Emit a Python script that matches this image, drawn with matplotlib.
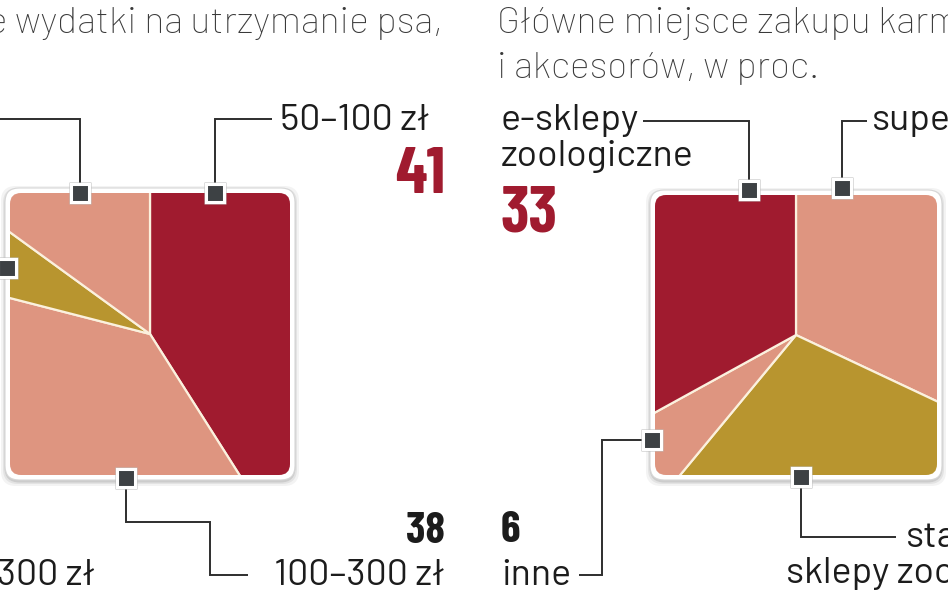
import matplotlib.pyplot as plt
from matplotlib.patches import Wedge, FancyBboxPatch

W, H = 948, 593

# lewy wykres - miesieczne wydatki na psa, w proc.
spend_labels = ["50–100 zł", "100–300 zł", "powyżej 300 zł", "do 50 zł"]
spend_values = [41, 38, 6, 15]
spend_colors = ["#A01B2F", "#DE9580", "#B8952F", "#DE9580"]

# prawy wykres - miejsce zakupu karmy, w proc.
shop_labels = ["supermarkety", "stacjonarne", "inne", "e-sklepy"]
shop_values = [32, 29, 6, 33]
shop_colors = ["#DE9580", "#B8952F", "#DE9580", "#A01B2F"]

plt.rcParams["font.family"] = ["Barlow", "DejaVu Sans"]

fig = plt.figure(figsize=(W / 100, H / 100), dpi=100)
ax = fig.add_axes([0, 0, 1, 1])
ax.set_xlim(0, W)
ax.set_ylim(H, 0)
ax.axis("off")


def square_pie(box, values, colors):
    x0, y0, x1, y1 = box
    cx, cy = (x0 + x1) / 2, (y0 + y1) / 2
    # cien i biala ramka
    for grow, a in [(9, 0.10), (7, 0.15), (5.5, 0.25)]:
        ax.add_patch(FancyBboxPatch((x0 - grow, y0 - grow + 2), x1 - x0 + 2 * grow,
                                    y1 - y0 + 2 * grow,
                                    boxstyle="round,pad=0,rounding_size=15",
                                    fc="#8a8a8a", ec="none", alpha=a, zorder=1))
    ax.add_patch(FancyBboxPatch((x0 - 5, y0 - 5), x1 - x0 + 10, y1 - y0 + 10,
                                boxstyle="round,pad=0,rounding_size=14",
                                fc="white", ec="#d6d6d6", lw=0.8, zorder=2))
    clip = FancyBboxPatch((x0, y0), x1 - x0, y1 - y0,
                          boxstyle="round,pad=0,rounding_size=11",
                          fc="none", ec="none", transform=ax.transData)
    ax.add_patch(clip)
    start = 0.0
    for v, c in zip(values, colors):
        span = v / sum(values) * 360
        w = Wedge((cx, cy), 500, start - 90, start + span - 90,
                  fc=c, ec="#FBF1DE", lw=1.6, zorder=3)
        ax.add_patch(w)
        w.set_clip_path(clip)
        start += span


square_pie((10, 193, 290, 475), spend_values, spend_colors)
square_pie((655, 195, 937, 475), shop_values, shop_colors)

line_kw = dict(color="#2e2e2e", lw=1.4, zorder=4, solid_joinstyle="miter",
               solid_capstyle="butt")


def marker(x, y):
    ax.plot([x], [y], marker="s", ms=16.5, mfc="#bdbdbd", mec="none", zorder=5)
    ax.plot([x], [y], marker="s", ms=13, mfc="#3D4144", mec="white",
            mew=2.2, zorder=6)


# lewy wykres - odnosniki
ax.plot([215, 215, 272], [193, 119, 119], **line_kw)
marker(215, 193)
ax.plot([80, 80, -5], [193, 119, 119], **line_kw)
marker(80, 193)
ax.plot([8, -5], [268, 268], **line_kw)
marker(7, 268)
ax.plot([126, 126, 210, 210, 248], [478, 522, 522, 575, 575], **line_kw)
marker(126, 478)

# prawy wykres - odnosniki
ax.plot([749, 749, 643], [190, 121, 121], **line_kw)
marker(749, 190)
ax.plot([842, 842, 867], [188, 121, 121], **line_kw)
marker(842, 188)
ax.plot([652, 602, 602, 579], [440, 440, 575, 575], **line_kw)
marker(652, 440)
ax.plot([801, 801, 896], [477, 537, 537], **line_kw)
marker(801, 477)

title_kw = dict(fontsize=27, color="#3a3a3a", fontweight="light", va="baseline")
lab_kw = dict(fontsize=27, color="#1c1c1c", va="baseline")
big_kw = dict(fontsize=47, color="#A01B2F", fontweight="bold", va="baseline",
              family=["Barlow Condensed", "DejaVu Sans"])
num_kw = dict(fontsize=32, color="#1c1c1c", fontweight="bold", va="baseline",
              family=["Barlow Condensed", "DejaVu Sans"])

ax.text(443, 33, "Miesięczne wydatki na utrzymanie psa,", ha="right", **title_kw)
ax.text(497, 33, "Główne miejsce zakupu karmy", ha="left", **title_kw)
ax.text(497, 78, "i akcesorów, w proc.", ha="left", **title_kw)

ax.text(280, 130, spend_labels[0], ha="left", **lab_kw)
ax.text(445, 193, str(spend_values[0]), ha="right", **big_kw)
ax.text(445, 543, str(spend_values[1]), ha="right", **num_kw)
ax.text(445, 585, spend_labels[1], ha="right", **lab_kw)
ax.text(95, 585, spend_labels[2], ha="right", **lab_kw)

ax.text(501, 130, "e-sklepy", ha="left", **lab_kw)
ax.text(501, 166, "zoologiczne", ha="left", **lab_kw)
ax.text(501, 232, str(shop_values[3]), ha="left", **big_kw)
ax.text(872, 130, shop_labels[0], ha="left", **lab_kw)
ax.text(501, 542, str(shop_values[2]), ha="left", **num_kw)
ax.text(501, 585, shop_labels[2], ha="left", **lab_kw)
ax.text(906, 547, shop_labels[1], ha="left", **lab_kw)
ax.text(786, 583, "sklepy zoologiczne", ha="left", **lab_kw)

fig.savefig("out.png", dpi=100)
